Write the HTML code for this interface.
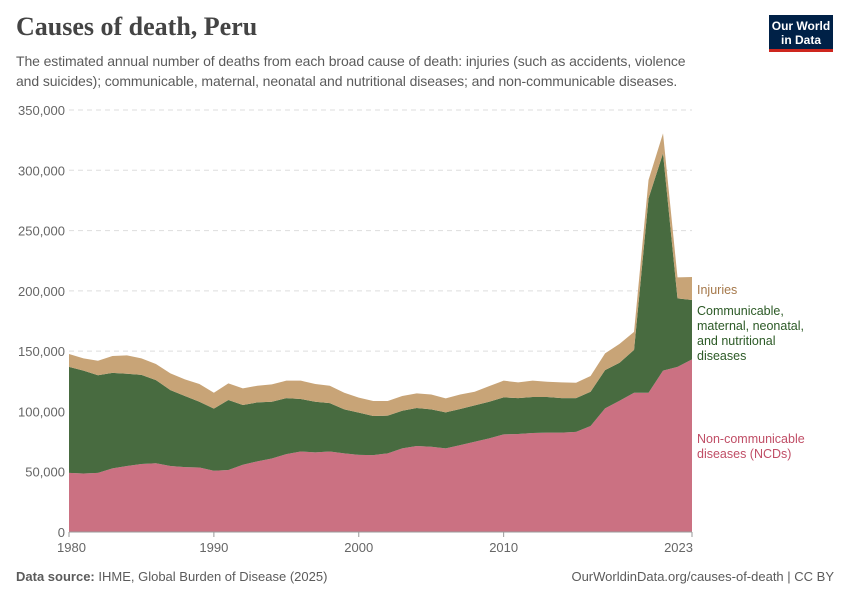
<!DOCTYPE html>
<html><head><meta charset="utf-8">
<style>
body{margin:0;background:#fff;font-family:"Liberation Sans",sans-serif;}
#wrap{position:relative;width:850px;height:600px;overflow:hidden;}
h1{position:absolute;left:16px;top:12px;margin:0;font-family:"Liberation Serif",serif;font-size:26px;font-weight:bold;color:#444;}
.sub{position:absolute;left:16px;top:51px;width:740px;font-size:14px;letter-spacing:-0.1px;line-height:20px;color:#5b5b5b;}
.logo{position:absolute;left:769px;top:15px;width:64px;height:37px;background:#002147;border-bottom:3px solid #ce261e;color:#fff;font-size:12px;font-weight:bold;text-align:center;line-height:14px;padding-top:4px;box-sizing:border-box;}
.foot{position:absolute;top:569px;font-size:13px;color:#5b5b5b;}
</style></head><body>
<div id="wrap">
<h1>Causes of death, Peru</h1>
<div class="sub">The estimated annual number of deaths from each broad cause of death: injuries (such as accidents, violence<br>and suicides); communicable, maternal, neonatal and nutritional diseases; and non-communicable diseases.</div>
<div class="logo">Our World<br>in Data</div>
<svg id="chart" width="850" height="600" style="position:absolute;left:0;top:0"></svg>
<div class="foot" style="left:16px"><b>Data source:</b> IHME, Global Burden of Disease (2025)</div>
<div class="foot" style="right:16px">OurWorldinData.org/causes-of-death | CC BY</div>
</div>
<script>
const years=[];for(let y=1980;y<=2023;y++)years.push(y);
const ncd=[49,48.5,49,52.8,54.7,56.4,57,54.7,53.8,53.5,50.8,51.4,55.8,58.6,61,64.6,66.8,66,66.8,65.2,64,63.8,65.2,69.4,71.3,70.7,69.4,72.1,74.9,77.7,81,81.3,82.1,82.4,82.4,83,87.9,102.5,108.9,115.5,115.5,133.8,137,143.2];
const cmnn=[88,85.3,81,79.2,76.6,73.9,69,63,59,54.5,51.5,58.1,49.5,48.9,47,46.4,43.5,42,40.1,36.5,35,32.4,31.3,31.2,31.5,31,29.8,29.9,30.1,30.3,30.7,29.7,29.9,29.6,28.6,28,28.4,31.8,31.5,35.5,161.2,180.2,56.8,49.2];
const injuries=[10.6,10.2,12,14,15.2,13.7,13.3,13.9,13.8,14.7,13.2,13.8,13.8,13.8,14.4,14.5,15.2,14.7,14.4,13.8,12.4,12.4,12.1,12.2,12.2,12.3,11.6,12,11.3,13,13.8,13.1,13.5,12.6,13.1,12.8,13.1,13.9,15.6,15,15.2,16.6,17.4,19.1];
const yTicks=[0,50000,100000,150000,200000,250000,300000,350000];
const xTicks=[1980,1990,2000,2010,2023];
const svg=document.getElementById('chart');const NS='http://www.w3.org/2000/svg';
const x=v=>69+(v-1980)*(692-69)/43;
const y=v=>532-v*(532-110)/350000;
function mk(t,a){const e=document.createElementNS(NS,t);for(const k in a)e.setAttribute(k,a[k]);svg.appendChild(e);return e;}
yTicks.forEach(t=>{
 if(t>0){const l=mk('line',{x1:69,x2:692,y1:y(t),y2:y(t),stroke:'#ddd','stroke-dasharray':'5,4'});
 
 }
 const tx=mk('text',{x:65,y:y(t)+5,'text-anchor':'end','font-size':'13','fill':'#666','font-family':'Liberation Sans'});
 tx.textContent=t.toLocaleString('en-US');
 
 
});
const series=[[ncd,'#cb7182','ncd-area'],[cmnn,'#486b40','cmnn-area'],[injuries,'#c8a477','injuries-area']];
let base=years.map(()=>0);
series.forEach(([vals,col,name])=>{
 const top=base.map((b,i)=>b+vals[i]*1000);
 let d='M'+years.map((yr,i)=>x(yr)+','+y(top[i])).join('L');
 for(let i=years.length-1;i>=0;i--)d+='L'+x(years[i])+','+y(base[i]);
 const p=mk('path',{d:d+'Z',fill:col});
 
 
 base=top;
});
const ax=mk('line',{x1:69,x2:692,y1:532,y2:532,stroke:'#999'});


xTicks.forEach(t=>{
 const l=mk('line',{x1:x(t),x2:x(t),y1:532,y2:537,stroke:'#999'});
 
 
 const tx=mk('text',{x:x(t),y:552,'text-anchor':t==1980?'start':(t==2023?'end':'middle'),'font-size':'13','fill':'#666','font-family':'Liberation Sans'});
 if(t==1980)tx.setAttribute('x',x(t)-12);
 if(t==2023)tx.setAttribute('x',x(t)+1);
 tx.textContent=t;
 
 
});
function lbl(lines,y0,col,name){lines.forEach((s,i)=>{const t=mk('text',{x:697,y:y0+i*15,'font-size':'12.5','fill':col,'font-family':'Liberation Sans'});t.textContent=s;
 
 });}
lbl(['Injuries'],294,'#a5784a','legend-injuries');
lbl(['Communicable,','maternal, neonatal,','and nutritional','diseases'],315,'#2c5a26','legend-cmnn');
lbl(['Non-communicable','diseases (NCDs)'],443,'#c04e66','legend-ncd');
</script>
</body></html>
